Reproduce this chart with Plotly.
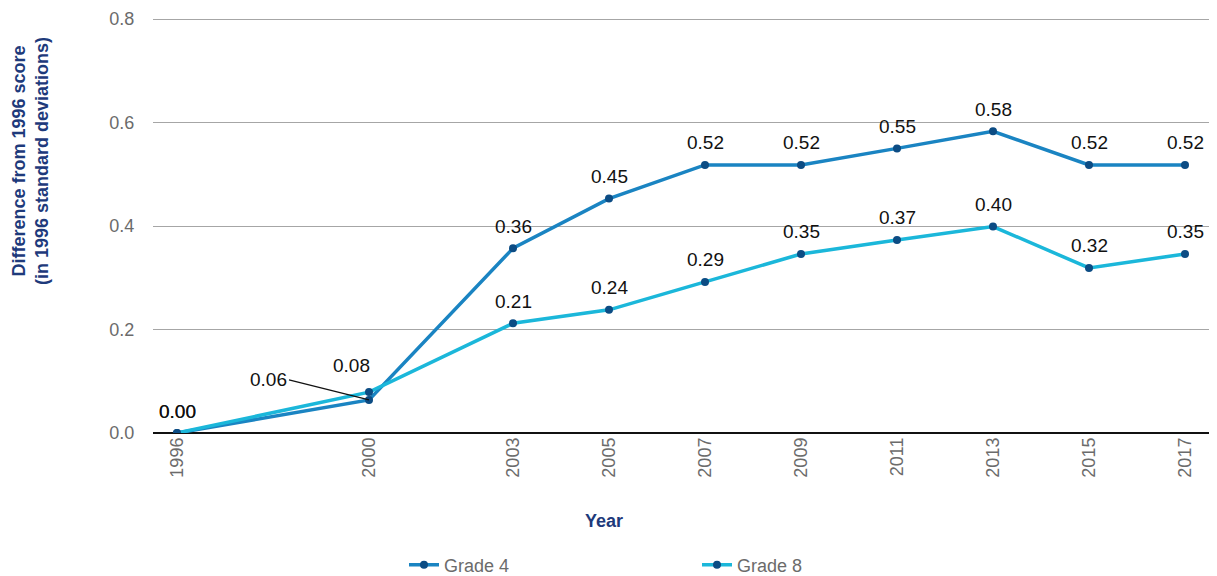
import plotly.graph_objects as go

years = [1996, 2000, 2003, 2005, 2007, 2009, 2011, 2013, 2015, 2017]
grade4 = [0.0, 0.064, 0.357, 0.453, 0.518, 0.518, 0.550, 0.583, 0.518, 0.518]
grade8 = [0.0, 0.079, 0.212, 0.238, 0.292, 0.346, 0.373, 0.399, 0.319, 0.346]
series_names = ["Grade 4", "Grade 8"]
line_colors = ["#1a84c2", "#1bb7da"]
marker_color = "#0c4c84"

# page has an 8px body margin; compensate
W, H = 1217, 576
L, R, T, B = 145, 10, 10, 151
PW = W - L - R
PH = H - T - B

fig = go.Figure()
for name, vals, col in zip(series_names, [grade4, grade8], line_colors):
    fig.add_trace(go.Scatter(
        x=years, y=vals, mode="lines+markers", name=name,
        line=dict(color=col, width=3.5),
        marker=dict(color=marker_color, size=8),
    ))

annotations = []
FONT = "Arial, Liberation Sans, sans-serif"
TITLE_COLOR = "#1e3a7b"
label_font = dict(family=FONT, size=19, color="#111111")
for vals, sname in zip([grade4, grade8], series_names):
    for x, v in zip(years, vals):
        txt = f"{v:.2f}"
        if sname == "Grade 4" and x == 2000:
            annotations.append(dict(x=x, y=v, text=txt, showarrow=True, arrowhead=0,
                                    arrowwidth=1.2, arrowcolor="#111111",
                                    ax=-80, ay=-20, xanchor="right", font=label_font,
                                    standoff=0))
        elif sname == "Grade 8" and x == 2000:
            annotations.append(dict(x=x, y=v, text=txt, showarrow=False,
                                    xshift=-18, yshift=27, font=label_font))
        else:
            annotations.append(dict(x=x, y=v, text=txt, showarrow=False,
                                    yshift=22, font=label_font))

# x axis title
annotations.append(dict(xref="paper", yref="paper", x=(596 - L) / PW, y=-(513 - (H - B)) / PH,
                        xanchor="center", yanchor="middle",
                        text="<b>Year</b>", showarrow=False,
                        font=dict(family=FONT, size=18, color=TITLE_COLOR)))
# y axis title
annotations.append(dict(xref="paper", yref="paper", x=(22 - L) / PW, y=1 - (153 - T) / PH,
                        xanchor="center", yanchor="middle", textangle=-90,
                        text="<b>Difference from 1996 score<br>(in 1996 standard deviations)</b>",
                        showarrow=False,
                        font=dict(family=FONT, size=18, color=TITLE_COLOR)))

fig.update_layout(
    width=W, height=H,
    margin=dict(l=L, r=R, t=T, b=B, autoexpand=False),
    paper_bgcolor="white", plot_bgcolor="white",
    font=dict(family=FONT),
    xaxis=dict(range=[1995.5, 2017.625], tickvals=years, ticktext=[str(y) for y in years],
               tickangle=-90, tickfont=dict(size=18, color="#6b6b6b"),
               showgrid=False, zeroline=False, showline=False, ticks="", automargin=False),
    yaxis=dict(range=[0, 0.802], tickvals=[0, 0.2, 0.4, 0.6, 0.8],
               ticktext=["0.0", "0.2", "0.4", "0.6", "0.8"],
               tickfont=dict(size=18, color="#6b6b6b"),
               showgrid=True, gridcolor="#a6a6a6", gridwidth=1,
               zeroline=True, zerolinecolor="#111111", zerolinewidth=1.8,
               ticks="outside", ticklen=14, tickcolor="rgba(0,0,0,0)", automargin=False),
    legend=dict(orientation="h", xref="container", yref="container",
                x=396 / W, xanchor="left", y=(H - 557) / H, yanchor="middle",
                font=dict(size=18, color="#6b6b6b"), entrywidth=248, entrywidthmode="pixels"),
    annotations=annotations,
    showlegend=True,
)

fig.write_html("out.html")
